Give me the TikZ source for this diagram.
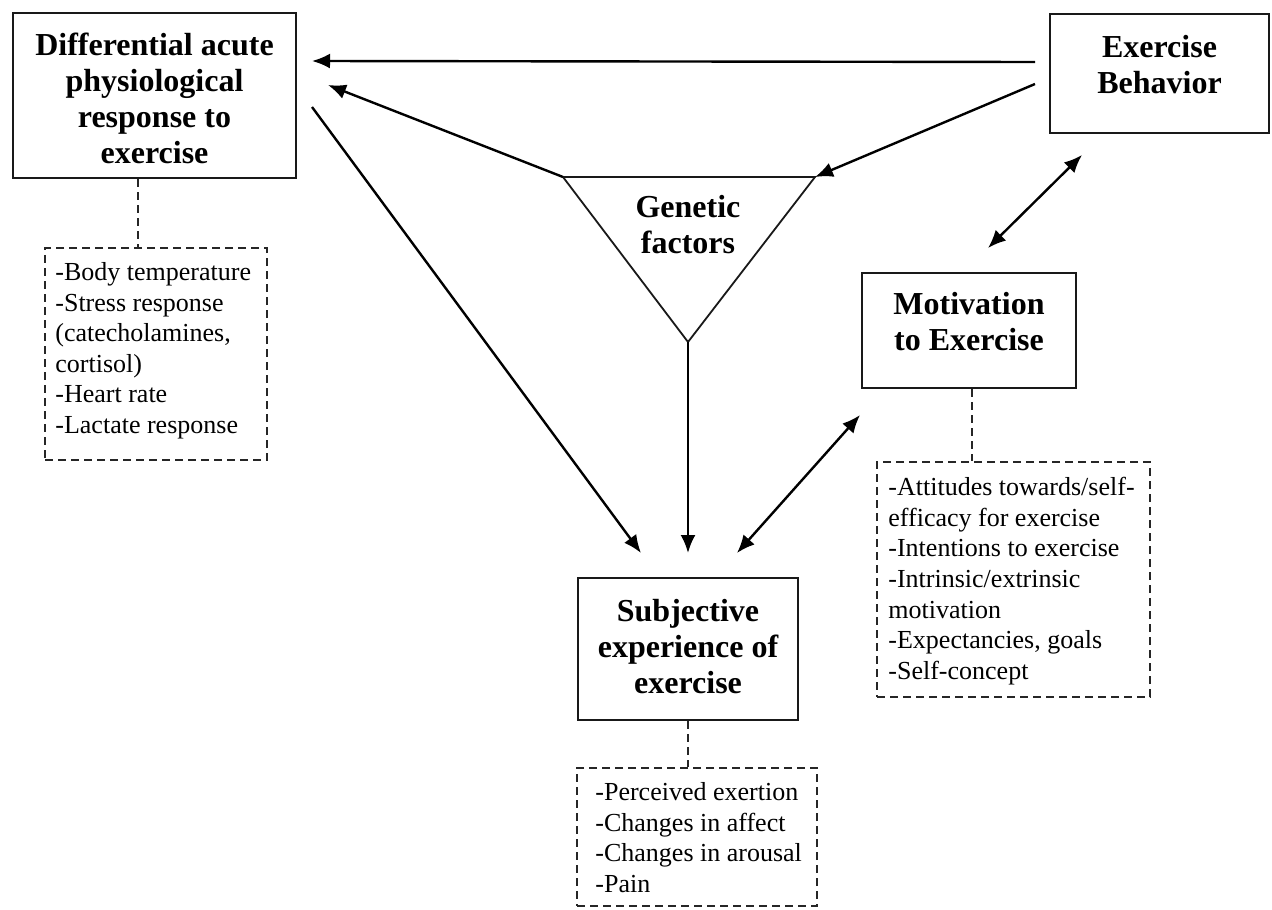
\documentclass[tikz,border=0pt]{standalone}
\usepackage{fontspec}
\setmainfont{Liberation Serif}
\usetikzlibrary{arrows.meta}
\begin{document}
\begin{tikzpicture}[x=0.5pt,y=-0.5pt,
  solidbox/.style={draw=black!90, line width=1.2pt, inner sep=0pt},
  dashbox/.style={draw=black!85, line width=0.8pt, dash pattern=on 4pt off 2.5pt, inner sep=0pt},
  dashline/.style={draw=black!85, line width=0.8pt, dash pattern=on 4pt off 2.5pt},
  title/.style={font=\fontsize{16}{18}\selectfont\bfseries, align=center, inner sep=0pt},
  body/.style={font=\fontsize{13}{15.3}\selectfont, align=left, inner sep=0pt, anchor=north west},
  arr/.style={line width=1.2pt, -{Latex[length=9pt,width=7.5pt]}},
  darr/.style={line width=1.2pt, {Latex[length=9pt,width=7.5pt]}-{Latex[length=9pt,width=7.5pt]}},
  tri/.style={draw=black!90, line width=0.9pt}]
\useasboundingbox (0,0) rectangle (1272,909);

% solid boxes
\node[solidbox, minimum width=141.5pt, minimum height=82.5pt] (A) at (154.5,95.5) {};
\node[title] (At) at (154.5,98) {Differential acute\\physiological\\response to\\exercise};
\node[solidbox, minimum width=109.5pt, minimum height=59.5pt] (B) at (1159.5,73.5) {};
\node[title] (Bt) at (1159.5,65) {Exercise\\Behavior};
\node[solidbox, minimum width=107pt, minimum height=57.5pt] (M) at (969,330.5) {};
\node[title] (Mt) at (969,322) {Motivation\\to Exercise};
\node[solidbox, minimum width=110pt, minimum height=71pt] (S) at (688,649) {};
\node[title] (St) at (688,647) {Subjective\\experience of\\exercise};

% genetic triangle
\coordinate (tl) at (563,177);
\coordinate (tr) at (815,177);
\coordinate (tb) at (688,342);
\draw[tri] (tl) -- (tr) -- (tb) -- cycle;
\node[title] (G) at (688,225) {Genetic\\factors};

% dashed boxes
\node[dashbox, minimum width=111pt, minimum height=106pt] (dA) at (156,354) {};
\node[body] (dAt) at (55,262) {-Body temperature\\-Stress response\\(catecholamines,\\cortisol)\\-Heart rate\\-Lactate response};
\node[dashbox, minimum width=136.5pt, minimum height=117.5pt] (dM) at (1013.5,579.5) {};
\node[body] (dMt) at (888,477) {-Attitudes towards/self-\\efficacy for exercise\\-Intentions to exercise\\-Intrinsic/extrinsic\\motivation\\-Expectancies, goals\\-Self-concept};
\node[dashbox, minimum width=120pt, minimum height=69pt] (dS) at (697,837) {};
\node[body] (dSt) at (595,782) {-Perceived exertion\\-Changes in affect\\-Changes in arousal\\-Pain};

% dashed connectors
\draw[dashline] (A.south -| 138,0) -- (dA.north -| 138,0);
\draw[dashline] (M.south -| 972,0) -- (dM.north -| 972,0);
\draw[dashline] (S.south) -- (dS.north -| S.south);

% arrow end points
\coordinate (b1) at (1035,62);
\coordinate (a1) at (312,61);
\coordinate (a2) at (328,85);
\coordinate (b2) at (1035,84);
\coordinate (a3) at (312,107);
\coordinate (s1) at (641,553);
\coordinate (s2) at (688,553);
\coordinate (m1) at (860,415);
\coordinate (s3) at (737,553);
\coordinate (b3) at (1082,155);
\coordinate (m2) at (988,248);

\draw[arr] (b1) -- (a1);
\draw[arr] (tl) -- (a2);
\draw[arr] (b2) -- (tr);
\draw[arr] (a3) -- (s1);
\draw[arr] (tb) -- (s2);
\draw[darr] (m1) -- (s3);
\draw[darr] (b3) -- (m2);
\end{tikzpicture}
\end{document}
